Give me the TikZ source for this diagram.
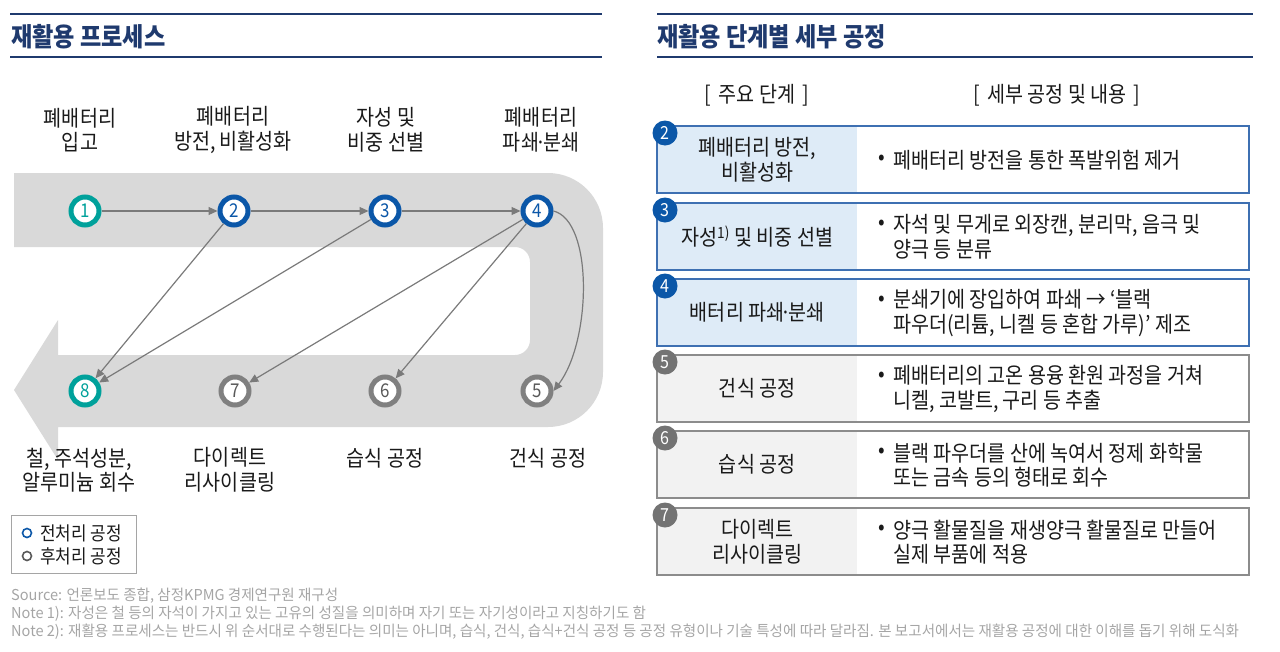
\documentclass[tikz,border=0pt]{standalone}
\usepackage{fontspec}
\setmainfont{Noto Sans CJK KR}[FakeStretch=0.89]
\newfontfamily\notefam{Noto Sans CJK KR}[FakeStretch=0.97]
\usetikzlibrary{arrows.meta}
\definecolor{navy}{HTML}{1F3A6E}
\definecolor{ringblue}{HTML}{0B57A8}
\definecolor{teal}{HTML}{00A19B}
\definecolor{ringgray}{HTML}{808080}
\definecolor{bandgray}{HTML}{D9D9D9}
\definecolor{arrowgray}{HTML}{7A7A7A}
\definecolor{boxblue}{HTML}{3E70B2}
\definecolor{fillblue}{HTML}{DEEBF7}
\definecolor{boxgray}{HTML}{8C8C8C}
\definecolor{fillgray}{HTML}{F2F2F2}
\definecolor{badgegray}{HTML}{737373}
\definecolor{notegray}{HTML}{A5A5A5}
\definecolor{textdark}{HTML}{1A1A1A}
\definecolor{numgray}{HTML}{595959}
\newcommand{\bodyf}{\fontsize{22}{24.5}\selectfont}
\newcommand{\titlef}{\fontsize{26}{30}\selectfont\bfseries}
\newcommand{\notef}{\notefam\fontsize{15}{18}\selectfont}
\newcommand{\legf}{\fontsize{19}{22}\selectfont}
\newcommand{\mdot}{\kern-3.5pt·\kern-3.5pt}
\begin{document}
\begin{tikzpicture}[x=1pt,y=-1pt,
  lbl/.style={align=center, font=\bodyf, text=textdark, inner sep=0pt},
  ring/.style={circle, minimum size=28pt, inner sep=0pt, line width=5pt, fill=white, font=\fontsize{19}{19}\selectfont},
  ringT/.style={ring, draw=teal, text=teal},
  ringB/.style={ring, draw=ringblue, text=ringblue},
  ringG/.style={ring, draw=ringgray, text=numgray},
  conn/.style={draw=arrowgray, line width=1.2pt, -{Triangle[length=9pt,width=8pt]}},
  hline/.style={draw=navy, line width=2pt},
  title/.style={anchor=west, font=\titlef, text=navy, inner sep=0pt},
  cellB/.style={rectangle, anchor=north west, minimum width=200pt, minimum height=67pt, inner sep=0pt, align=center, font=\bodyf, text=textdark, fill=fillblue},
  cellG/.style={cellB, fill=fillgray},
  frameB/.style={draw=boxblue, line width=1.3pt},
  frameG/.style={draw=boxgray, line width=1.3pt},
  badge/.style={circle, minimum size=25pt, inner sep=0pt, text=white, font=\fontsize{18}{18}\selectfont},
  bul/.style={font=\bodyf, text=textdark, inner sep=0pt},
  desc/.style={anchor=west, align=left, font=\bodyf, text=textdark, inner sep=0pt},
  note/.style={anchor=west, font=\notef, text=notegray, inner sep=0pt},
  legmark/.style={circle, minimum size=9pt, inner sep=0pt, line width=1.6pt, fill=white}
]
\useasboundingbox (0,0) rectangle (1280,651);

% ---------- left header ----------
\draw[hline] (10,14) -- (602,14);
\draw[hline] (10,57) -- (602,57);
\node[title] (tl) at (11,37) {재활용 프로세스};

% ---------- right header ----------
\draw[hline] (657,14) -- (1253,14);
\draw[hline] (657,57) -- (1253,57);
\node[title] (tr) at (657,37) {재활용 단계별 세부 공정};

% ---------- gray U band ----------
\fill[bandgray] (14,173) -- (548,173) .. controls (578.4,173) and (603,197.6) .. (603,228)
  -- (603,372) .. controls (603,402.4) and (578.4,427) .. (548,427)
  -- (58,427) -- (58,460) -- (14,390) -- (58,320) -- (58,355)
  -- (515,355) .. controls (523.3,355) and (530,348.3) .. (530,340)
  -- (530,262) .. controls (530,253.7) and (523.3,247) .. (515,247)
  -- (14,247) -- cycle;

% ---------- top labels ----------
\node[lbl] (t1) at (80,130) {폐배터리\\입고};
\node[lbl] (t2) at (233,130) {폐배터리\\방전, 비활성화};
\node[lbl] (t3) at (386,130) {자성 및\\비중 선별};
\node[lbl] (t4) at (541,130) {폐배터리\\파쇄\mdot 분쇄};

% ---------- circles ----------
\node[ringT] (c1) at (85,211) {1};
\node[ringB] (c2) at (234,211) {2};
\node[ringB] (c3) at (385,211) {3};
\node[ringB] (c4) at (537,211) {4};
\node[ringG] (c5) at (537,391) {5};
\node[ringG] (c6) at (385,391) {6};
\node[ringG] (c7) at (235,391) {7};
\node[ringT] (c8) at (85,391) {8};

% ---------- connectors ----------
\draw[conn] (c1) -- (c2);
\draw[conn] (c2) -- (c3);
\draw[conn] (c3) -- (c4);
\draw[conn] (c2) -- (c8);
\draw[conn] (c3) -- (c8);
\draw[conn] (c4) -- (c7);
\draw[conn] (c4) -- (c6);
\draw[conn] (c4.east) .. controls +(40,10) and +(38,-50) .. (c5.east);

% ---------- bottom labels ----------
\node[lbl] (b8) at (79,470) {철, 주석성분,\\알루미늄 회수};
\node[lbl] (b7) at (230,470) {다이렉트\\리사이클링};
\node[lbl] (b6) at (385,458) {습식 공정};
\node[lbl] (b5) at (548,458) {건식 공정};

% ---------- legend ----------
\draw[draw=notegray, line width=0.8pt] (11,515) rectangle (136,573);
\node[legmark, draw=ringblue] (m1) at (27,533) {};
\node[anchor=west, font=\legf, text=textdark, inner sep=0pt] (lg1) at (40,533) {전처리 공정};
\node[legmark, draw=numgray] (m2) at (27,556) {};
\node[anchor=west, font=\legf, text=textdark, inner sep=0pt] (lg2) at (40,556) {후처리 공정};

% ---------- notes ----------
\node[note] (n0) at (11,596) {Source: 언론보도 종합, 삼정KPMG 경제연구원 재구성};
\node[note] (n1) at (11,614) {Note 1): 자성은 철 등의 자석이 가지고 있는 고유의 성질을 의미하며 자기 또는 자기성이라고 지칭하기도 함};
\node[note] (n2) at (11,632) {Note 2): 재활용 프로세스는 반드시 위 순서대로 수행된다는 의미는 아니며, 습식, 건식, 습식+건식 공정 등 공정 유형이나 기술 특성에 따라 달라짐. 본 보고서에서는 재활용 공정에 대한 이해를 돕기 위해 도식화};

% ---------- right column headers ----------
\node[lbl] (h1) at (757,95) {[\,\,주요 단계\,\,]};
\node[lbl] (h2) at (1057,95) {[\,\,세부 공정 및 내용\,\,]};

% ---------- box 2 ----------
\node[cellB] (l2) at (657,126) {폐배터리 방전,\\비활성화};
\draw[frameB] (657,126) rectangle (1249,193);
\node[badge, fill=ringblue] (g2) at (665,133) {2};
\node[bul] (p2) at (882,160) {•};
\node[desc] (d2) at (893,160) {폐배터리 방전을 통한 폭발위험 제거};

% ---------- box 3 ----------
\node[cellB] (l3) at (657,203) {자성\textsuperscript{1)} 및 비중 선별};
\draw[frameB] (657,203) rectangle (1249,270);
\node[badge, fill=ringblue] (g3) at (665,210) {3};
\node[bul] (p3) at (882,225) {•};
\node[desc] (d3) at (893,237) {자석 및 무게로 외장캔, 분리막, 음극 및\\양극 등 분류};

% ---------- box 4 ----------
\node[cellB] (l4) at (657,279) {배터리 파쇄\mdot 분쇄};
\draw[frameB] (657,279) rectangle (1249,346);
\node[badge, fill=ringblue] (g4) at (665,286) {4};
\node[bul] (p4) at (882,301) {•};
\node[desc] (d4) at (893,313) {분쇄기에 장입하여 파쇄 → ‘블랙\\파우더(리튬, 니켈 등 혼합 가루)’ 제조};

% ---------- box 5 ----------
\node[cellG] (l5) at (657,355) {건식 공정};
\draw[frameG] (657,355) rectangle (1249,422);
\node[badge, fill=badgegray] (g5) at (665,362) {5};
\node[bul] (p5) at (882,377) {•};
\node[desc] (d5) at (893,389) {폐배터리의 고온 용융 환원 과정을 거쳐\\니켈, 코발트, 구리 등 추출};

% ---------- box 6 ----------
\node[cellG] (l6) at (657,431) {습식 공정};
\draw[frameG] (657,431) rectangle (1249,498);
\node[badge, fill=badgegray] (g6) at (665,438) {6};
\node[bul] (p6) at (882,453) {•};
\node[desc] (d6) at (893,465) {블랙 파우더를 산에 녹여서 정제 화학물\\또는 금속 등의 형태로 회수};

% ---------- box 7 ----------
\node[cellG] (l7) at (657,508) {다이렉트\\리사이클링};
\draw[frameG] (657,508) rectangle (1249,575);
\node[badge, fill=badgegray] (g7) at (665,515) {7};
\node[bul] (p7) at (882,530) {•};
\node[desc] (d7) at (893,542) {양극 활물질을 재생양극 활물질로 만들어\\실제 부품에 적용};
\end{tikzpicture}
\end{document}
